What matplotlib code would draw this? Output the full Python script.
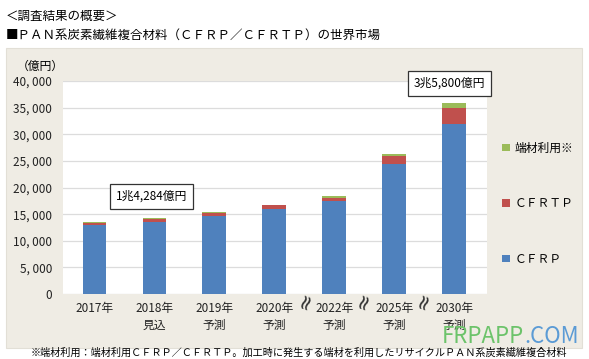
import numpy as np
import matplotlib.pyplot as plt
from matplotlib.patches import Rectangle
from matplotlib.ticker import FuncFormatter

plt.rcParams['font.family'] = ['Noto Sans CJK JP', 'DejaVu Sans']

# data (億円)
years = ['2017年', '2018年\n見込', '2019年\n予測', '2020年\n予測',
         '2022年\n予測', '2025年\n予測', '2030年\n予測']
cfrp = [12950, 13600, 14700, 15900, 17400, 24450, 32000]
cfrtp = [430, 550, 600, 750, 700, 1550, 3000]
scrap = [60, 134, 130, 150, 300, 300, 800]
callouts = {1: '1兆4,284億円', 6: '3兆5,800億円'}

c_blue = '#4f81bd'
c_red = '#c0504d'
c_green = '#9bbb59'
beige = '#efece4'

fig = plt.figure(figsize=(5.89, 3.59), dpi=100)
fig.patch.set_facecolor('white')

# beige panel behind the chart
panel = Rectangle((0.0095, 0.032), 0.979, 0.835, transform=fig.transFigure,
                  facecolor=beige, edgecolor='#e2dfd6', lw=0.8, zorder=-10)
fig.add_artist(panel)

ax = fig.add_axes([0.107, 0.181, 0.72, 0.593])
ax.set_facecolor('white')

x = np.arange(len(years))
w = 0.39
b1 = np.array(cfrp)
b2 = b1 + np.array(cfrtp)
ax.bar(x, cfrp, w, color=c_blue, zorder=3, label='ＣＦＲＰ')
ax.bar(x, cfrtp, w, bottom=b1, color=c_red, zorder=3, label='ＣＦＲＴＰ')
ax.bar(x, scrap, w, bottom=b2, color=c_green, zorder=3, label='端材利用※')

ax.set_ylim(0, 40000)
ax.set_xlim(-0.52, 6.55)
ax.set_yticks(np.arange(0, 40001, 5000))
ax.yaxis.set_major_formatter(FuncFormatter(lambda v, p: f'{v:,.0f}'.replace(',', ', ')))
ax.grid(axis='y', color='#dcdcdc', lw=0.9, zorder=0)
for s in ax.spines.values():
    s.set_visible(False)
ax.tick_params(length=0, labelsize=8.5, colors='#222222')
ax.tick_params(axis='y', pad=8)
ax.tick_params(axis='x', pad=6)
ax.set_xticks(x)
ax.set_xticklabels(years, linespacing=1.35)

# break marks between non-consecutive years
for xb in [3.52, 4.5, 5.5]:
    ax.text(xb, -1300, '≈', rotation=70, ha='center', va='center', fontsize=15,
            color='#333333', clip_on=False, family='DejaVu Sans')

# callout boxes
totals = b2 + np.array(scrap)
offs = {1: (-0.05, 4100), 6: (-0.08, 3800)}
for i, t in callouts.items():
    dx, dy = offs[i]
    ax.text(i + dx, totals[i] + dy, t, ha='center', va='center', fontsize=8.5,
            clip_on=False, zorder=5,
            bbox=dict(boxstyle='square,pad=0.5', fc='white', ec='#333333', lw=0.9))

# legend (top to bottom: scrap, CFRTP, CFRP)
h, l = ax.get_legend_handles_labels()
ax.legend(h[::-1], l[::-1], loc='upper left', bbox_to_anchor=(0.835, 0.635),
          bbox_transform=fig.transFigure, frameon=False, fontsize=8.5,
          handlelength=0.6, handleheight=0.6, handletextpad=0.4, labelspacing=3.6)

ax.text(-0.11, 1.04, '（億円）', transform=ax.transAxes, fontsize=8.5, ha='left', va='bottom')

fig.text(0.009, 0.955, '＜調査結果の概要＞', fontsize=9, va='center')
fig.text(0.009, 0.902, '■ＰＡＮ系炭素繊維複合材料（ＣＦＲＰ／ＣＦＲＴＰ）の世界市場',
         fontsize=9, va='center')
fig.text(0.052, 0.018,
         '※端材利用：端材利用ＣＦＲＰ／ＣＦＲＴＰ。加工時に発生する端材を利用したリサイクルＰＡＮ系炭素繊維複合材料',
         fontsize=7.3, va='center')

# watermark
fig.text(0.89, 0.062, 'FRPAPP', fontsize=16, color='#6cc36a', va='center', ha='right')
fig.text(0.89, 0.062, '.COM', fontsize=16, color='#5b9bd5', va='center', ha='left')

fig.savefig('out.png', dpi=100)
